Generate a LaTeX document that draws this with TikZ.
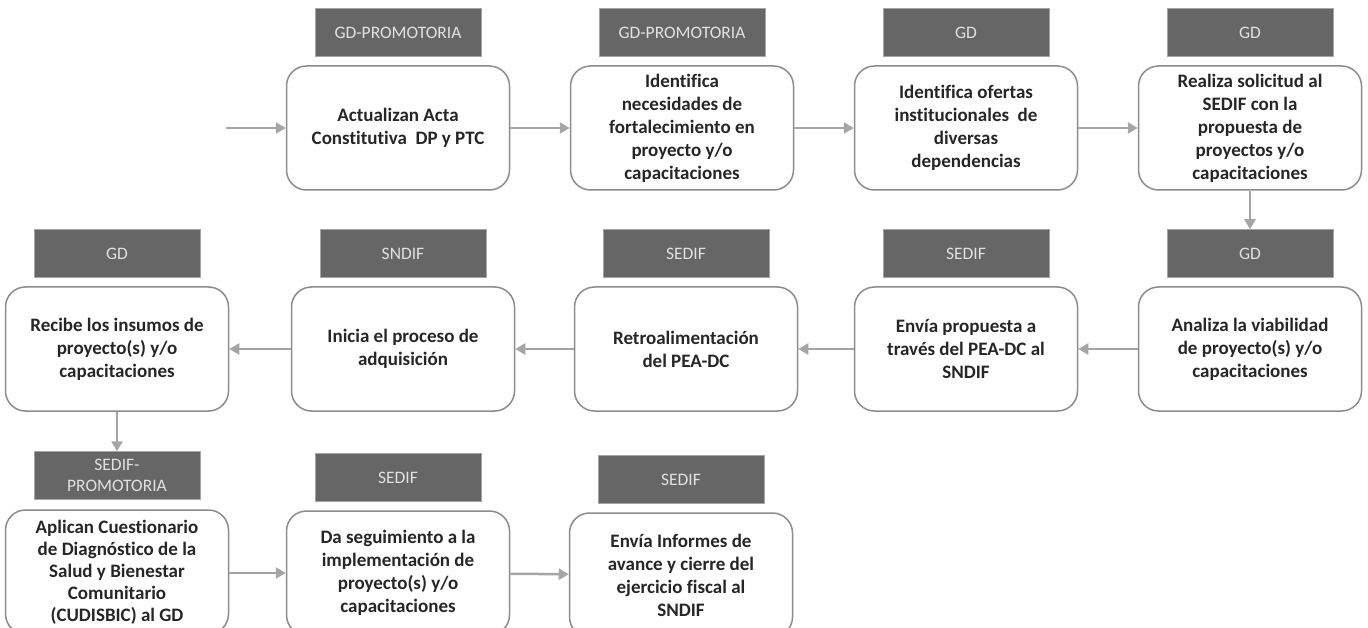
\documentclass[tikz,border=0pt]{standalone}
\usepackage{fontspec}
\setmainfont{Carlito}[Ligatures=NoCommon]
\usetikzlibrary{arrows.meta,positioning}
\definecolor{tagfill}{RGB}{102,102,102}
\definecolor{tagline}{RGB}{165,165,165}
\definecolor{tagtext}{RGB}{225,225,225}
\definecolor{boxline}{RGB}{140,140,140}
\definecolor{flowgray}{RGB}{165,165,165}
\definecolor{boxtext}{RGB}{38,38,38}

\begin{document}
\begin{tikzpicture}[x=1pt, y=-1pt,
    box/.style={draw=boxline, line width=1.5pt, rounded corners=20pt, fill=white, minimum width=223pt, minimum height=124pt, align=center, inner sep=2pt, text=boxtext, font=\fontsize{19}{23}\selectfont\bfseries},
    tag/.style={draw=tagline, line width=1pt, fill=tagfill, minimum width=166pt, minimum height=48pt, align=center, inner sep=2pt, text=tagtext, font=\fontsize{17.5}{21}\selectfont},
    arrow/.style={-{Triangle[length=10pt,width=11pt]}, line width=2.5pt, flowgray}
]
\useasboundingbox (0,0) rectangle (1368,628);

% First row
\node[box] (act) at (398,128) {Actualizan Acta\\Constitutiva~ DP y PTC};
\node[box] (nec) at (682,128) {Identifica\\necesidades de\\fortalecimiento en\\proyecto y/o\\capacitaciones};
\node[box] (ofe) at (966,128) {Identifica ofertas\\institucionales~ de\\diversas\\dependencias};
\node[box] (sol) at (1250,128) {Realiza solicitud al\\SEDIF con la\\propuesta de\\proyectos y/o\\capacitaciones};

% Second row
\node[box] (via) at (1250,349) {Analiza la viabilidad\\de proyecto(s) y/o\\capacitaciones};
\node[box] (env) at (966,349) {Envía propuesta a\\través del PEA-DC al\\SNDIF};
\node[box] (ret) at (686,349) {Retroalimentación\\del PEA-DC};
\node[box] (adq) at (403,349) {Inicia el proceso de\\adquisición};
\node[box] (ins) at (117,349) {Recibe los insumos de\\proyecto(s) y/o\\capacitaciones};

% Third row
\node[box, font=\fontsize{19}{22}\selectfont\bfseries] (cue) at (117,572) {Aplican Cuestionario\\de Diagnóstico de la\\Salud y Bienestar\\Comunitario\\(CUDISBIC) al GD};
\node[box] (seg) at (398,573) {Da seguimiento a la\\implementación de\\proyecto(s) y/o\\capacitaciones};
\node[box] (inf) at (681,575) {Envía Informes de\\avance y cierre del\\ejercicio fiscal al\\SNDIF};

% Responsible tags
\node[tag, above=8pt of act] (t-act) {GD-PROMOTORIA};
\node[tag, above=8pt of nec] (t-nec) {GD-PROMOTORIA};
\node[tag, above=8pt of ofe] (t-ofe) {GD};
\node[tag, above=8pt of sol] (t-sol) {GD};
\node[tag, above=8pt of via] (t-via) {GD};
\node[tag, above=8pt of env] (t-env) {SEDIF};
\node[tag, above=8pt of ret] (t-ret) {SEDIF};
\node[tag, above=8pt of adq] (t-adq) {SNDIF};
\node[tag, above=8pt of ins] (t-ins) {GD};
\node[tag, above=9pt of cue] (t-cue) {SEDIF-\\PROMOTORIA};
\node[tag, above=8pt of seg] (t-seg) {SEDIF};
\node[tag, above=8pt of inf] (t-inf) {SEDIF};

% Arrows
\coordinate (start) at (226,128);
\draw[arrow] (start) -- (act);
\draw[arrow] (act) -- (nec);
\draw[arrow] (nec) -- (ofe);
\draw[arrow] (ofe) -- (sol);
\draw[arrow] (sol) -- (t-via);
\draw[arrow] (via) -- (env);
\draw[arrow] (env) -- (ret);
\draw[arrow] (ret) -- (adq);
\draw[arrow] (adq) -- (ins);
\draw[arrow] (ins) -- (t-cue);
\draw[arrow] (cue.east |- seg) -- (seg);
\draw[arrow] (seg) -- (inf);

\end{tikzpicture}
\end{document}
